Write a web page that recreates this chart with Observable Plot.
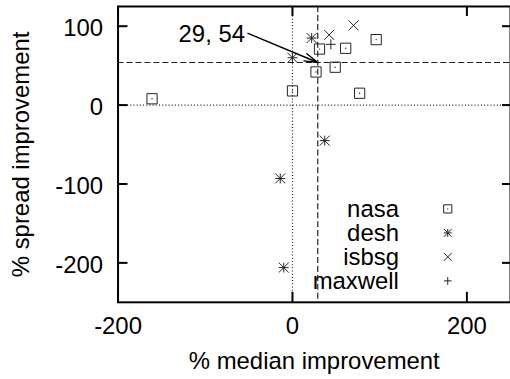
<!DOCTYPE html>
<html><head><meta charset="utf-8">
<script src="https://cdn.jsdelivr.net/npm/d3@7"></script>
<script src="https://cdn.jsdelivr.net/npm/@observablehq/plot@0.6"></script>
<style>
html,body{margin:0;padding:0;overflow:hidden;background:#fff;width:510px;height:379px}
#chart svg{display:block}
</style></head><body><div id="chart"></div>
<script>
const seriesNames = ["nasa", "desh", "isbsg", "maxwell"];
const nasaX = [-161, 31, 61, 96, 27, 49, 0, 77];
const nasaY = [8, 71, 72, 83, 42, 48, 18, 15];
const deshX = [22, 0, 37, -14, -10];
const deshY = [85, 60, -45, -93, -206];
const isbsgX = [42, 70];
const isbsgY = [89, 101];
const maxwellX = [44];
const maxwellY = [77];
const medianX = [29];
const medianY = [54];
const annotationLabel = ["29, 54"];
const annotationFromX = [-51];
const annotationFromY = [91];
const xTicks = [-200, 0, 200];
const yTicks = [-200, -100, 0, 100];
const xDomain = [-200, 250];
const yDomain = [-250, 125];
const xTitle = "% median improvement";
const yTitle = "% spread improvement";

const FONT = "'Liberation Sans', Arial, Helvetica, sans-serif";
const INK = "#222";
const W = 512, H = 379, ML = 118, MR = 0, MT = 6, MB = 76;
const PW = W - ML - MR, PH = H - MT - MB, TICK = 10;

const dashed = {stroke: INK, strokeWidth: 1.2, strokeDasharray: "6,3"};
const dotted = {stroke: INK, strokeWidth: 1.2, strokeDasharray: "1,2.2"};

const sym = {
  nasa: [{symbol: "square", r: 5.8}],
  desh: [{symbol: "plus", r: 3.3}, {symbol: "times", r: 4.6}],
  isbsg: [{symbol: "times", r: 4.6}],
  maxwell: [{symbol: "plus", r: 3.3}]
};
const seriesXY = {nasa: [nasaX, nasaY], desh: [deshX, deshY], isbsg: [isbsgX, isbsgY], maxwell: [maxwellX, maxwellY]};

const marks = [
  Plot.ruleX([0], {...dotted}),
  Plot.ruleY([0], {...dotted}),
  Plot.ruleX(medianX, {...dashed}),
  Plot.ruleY(medianY, {...dashed}),
  Plot.frame({stroke: "#000", strokeWidth: 2}),
  Plot.tickX(xTicks, {x: d => d, insetTop: PH - TICK, stroke: "#000", strokeWidth: 2}),
  Plot.tickX(xTicks, {x: d => d, insetBottom: PH - TICK, stroke: "#000", strokeWidth: 2}),
  Plot.tickY(yTicks, {y: d => d, insetRight: PW - TICK, stroke: "#000", strokeWidth: 2}),
  Plot.tickY(yTicks, {y: d => d, insetLeft: PW - TICK + 2, stroke: "#000", strokeWidth: 2}),
  Plot.axisX({ticks: xTicks, tickSize: 0, tickPadding: 15, label: null, fill: "#000", tickFormat: d => String(d)}),
  Plot.axisY({ticks: yTicks, tickSize: 0, tickPadding: 15, label: null, dy: 2, fill: "#000", tickFormat: d => String(d)}),
  Plot.text([xTitle], {frameAnchor: "bottom", dy: 59, text: d => d, textAnchor: "middle", lineAnchor: "middle", fill: "#000"}),
  Plot.text([yTitle], {frameAnchor: "left", dx: -97, rotate: -90, text: d => d, textAnchor: "middle", lineAnchor: "middle", fill: "#000"}),
];

for (const name of seriesNames) {
  const [xs, ys] = seriesXY[name];
  for (const s of sym[name]) {
    marks.push(Plot.dot(xs, {x: xs, y: ys, symbol: s.symbol, r: s.r, fill: "none", stroke: INK, strokeWidth: 1}));
  }
  if (name === "nasa") marks.push(Plot.dot(xs, {x: xs, y: ys, r: 0.7, fill: INK, stroke: "none"}));
}

marks.push(Plot.arrow(annotationLabel, {x1: annotationFromX, y1: annotationFromY, x2: medianX, y2: medianY,
  headLength: 15, headAngle: 32, stroke: "#000", strokeWidth: 1.4}));
marks.push(Plot.text(annotationLabel, {x: annotationFromX, y: annotationFromY, text: d => d, textAnchor: "end", lineAnchor: "middle", dx: -3, dy: 1, fill: "#000"}));

seriesNames.forEach((name, i) => {
  const dy = 203.2 + 24.1 * i;
  marks.push(Plot.text([name], {frameAnchor: "top-left", dx: 282, dy, text: d => d, textAnchor: "end", lineAnchor: "middle", fill: "#000"}));
  for (const s of sym[name]) {
    marks.push(Plot.dot([name], {frameAnchor: "top-left", dx: 331, dy, symbol: s.symbol, r: s.r * 0.8, fill: "none", stroke: INK, strokeWidth: 1}));
  }
  if (name === "nasa") marks.push(Plot.dot([name], {frameAnchor: "top-left", dx: 331, dy, r: 0.6, fill: INK, stroke: "none"}));
});

const chart = Plot.plot({
  width: W, height: H,
  marginLeft: ML, marginRight: MR, marginTop: MT, marginBottom: MB,
  x: {domain: xDomain},
  y: {domain: yDomain},
  style: {fontFamily: FONT, fontSize: "24px", background: "#fff", color: "#000", overflow: "visible"},
  marks
});
document.getElementById("chart").append(chart);
</script></body></html>
